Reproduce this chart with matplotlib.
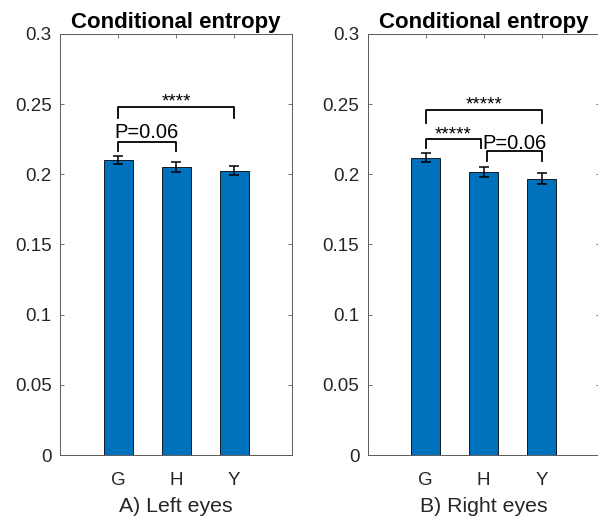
import matplotlib
matplotlib.use("Agg")
import matplotlib.pyplot as plt

plt.rcParams['font.family'] = ['Liberation Sans', 'DejaVu Sans']

groups = ["G", "H", "Y"]
left_means = [0.2102, 0.2053, 0.2026]
left_err = [0.0030, 0.0038, 0.0032]
right_means = [0.2119, 0.2017, 0.1969]
right_err = [0.0032, 0.0036, 0.0040]

yticks = [0, 0.05, 0.1, 0.15, 0.2, 0.25, 0.3]
ytick_labels = ["0", "0.05", "0.1", "0.15", "0.2", "0.25", "0.3"]

# (x1, x2, bracket top, leg bottom, label, label fontsize, label gap)
left_brackets = [
    (1.0, 3.0, 0.2480, 0.2400, "****", 13.5, 0.0002),
    (1.0, 2.0, 0.2231, 0.2167, "P=0.06", 14.5, 0.0026),
]
right_brackets = [
    (1.0, 3.0, 0.2459, 0.2368, "*****", 13.5, 0.0002),
    (1.0, 1.95, 0.2250, 0.2186, "*****", 13.5, 0.0002),
    (2.05, 3.0, 0.2167, 0.2095, "P=0.06", 14.5, 0.0012),
]

BLUE = "#0072BD"
AX_COLOR = "#262626"
SPINE = "#5a5a5a"

fig = plt.figure(figsize=(5.98, 5.18), dpi=100)
ax_l = fig.add_axes([60 / 598, 63 / 518, 232 / 598, 421 / 518])
ax_r = fig.add_axes([367.7 / 598, 63 / 518, 232 / 598, 421 / 518])


def draw_panel(ax, means, errs, brackets, xlabel):
    x = list(range(1, len(groups) + 1))
    ax.bar(x, means, width=0.5, color=BLUE, edgecolor="black", linewidth=0.6, zorder=2)
    ax.errorbar(x, means, yerr=errs, fmt="none", ecolor="black",
                elinewidth=1.1, capsize=3.4, capthick=1.1, zorder=3)
    for x1, x2, top, leg, label, fs, gap in brackets:
        ax.plot([x1, x1, x2, x2], [leg, top, top, leg], color="black", lw=1.3, zorder=4)
        ax.text((x1 + x2) / 2, top + gap, label, ha="center", va="baseline",
                fontsize=fs, color="black")
    ax.set_xlim(0, 4)
    ax.set_ylim(0, 0.3)
    ax.set_xticks(x)
    ax.set_xticklabels(groups)
    ax.set_yticks(yticks)
    ax.set_yticklabels(ytick_labels)
    ax.tick_params(direction="in", length=3, width=0.6, colors=SPINE,
                   labelcolor=AX_COLOR, labelsize=13.5, top=True, right=True, pad=6)
    ax.tick_params(axis="x", pad=12)
    for s in ax.spines.values():
        s.set_color(SPINE)
        s.set_linewidth(0.7)
    ax.set_title("Conditional entropy", fontsize=16, fontweight="bold", color="black", pad=4)
    ax.set_xlabel(xlabel, fontsize=15.3, color=AX_COLOR, labelpad=6)


draw_panel(ax_l, left_means, left_err, left_brackets, "A) Left eyes")
draw_panel(ax_r, right_means, right_err, right_brackets, "B) Right eyes")

fig.savefig("out.png", dpi=100)
